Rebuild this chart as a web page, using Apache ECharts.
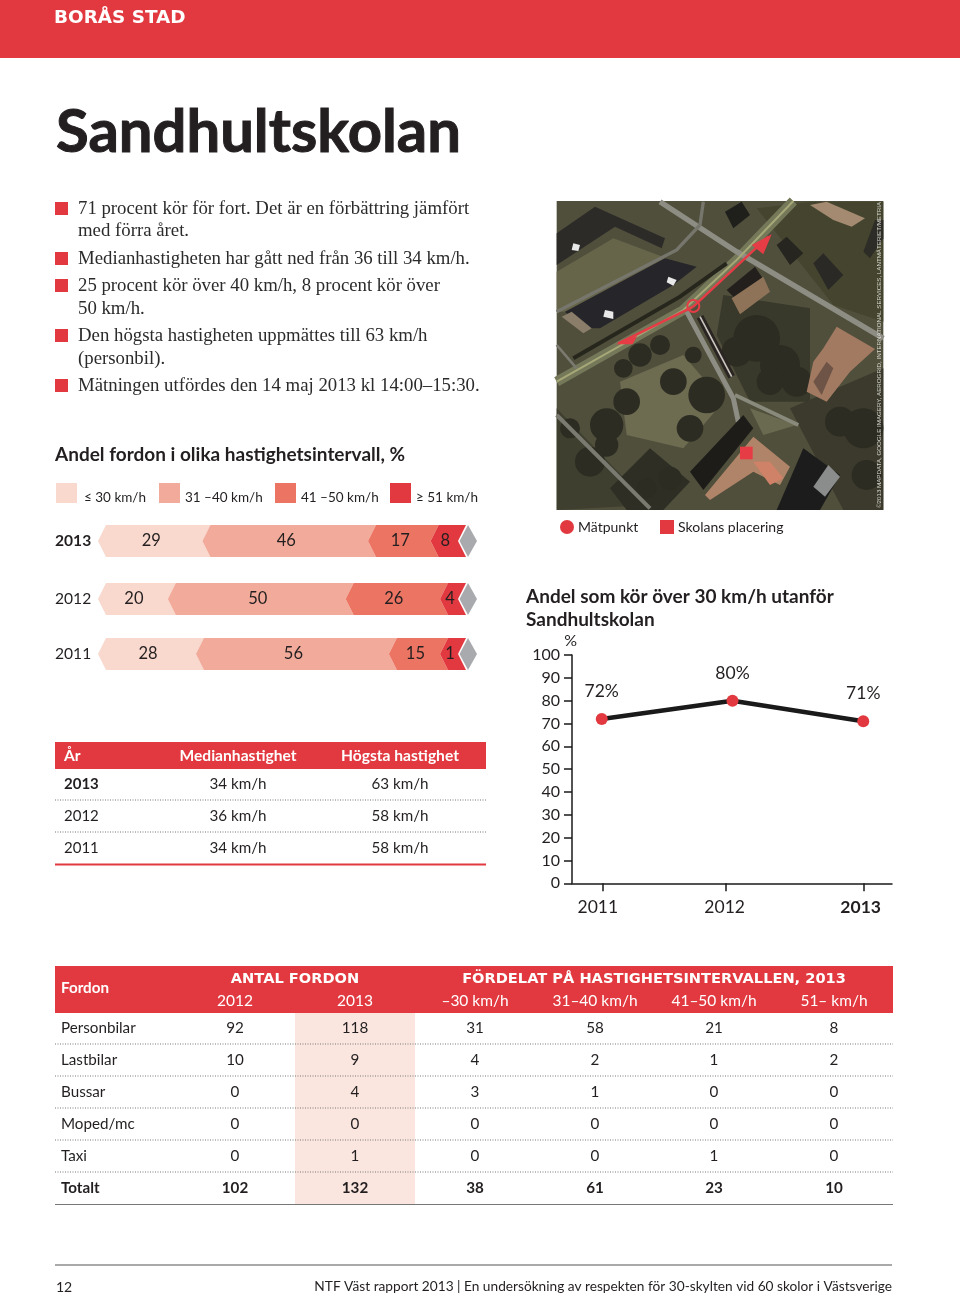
<!DOCTYPE html>
<html><head><meta charset="utf-8">
<style>html,body{margin:0;padding:0;background:#fff}#c{width:960px;height:1298px}</style>
<script src="https://cdn.jsdelivr.net/npm/echarts@6/dist/echarts.min.js"></script>
</head><body><div id="c"></div>
<script>
// ---- data ----
const speedYears = ['2013','2012','2011'];
const bandNames = ['≤ 30 km/h','31 –40 km/h','41 –50 km/h','≥ 51 km/h'];
const band30 = [29,20,28];
const band40 = [46,50,56];
const band50 = [17,26,15];
const band51 = [8,4,1];
// bar lengths as drawn in the picture (the printed bars are not exactly to label scale)
const drawn30 = [29,19.4,27.2];
const drawn40 = [46,49.4,53.6];
const drawn50 = [17.4,26.2,14.2];
const drawn51 = [7.6,5,5];
const lineYears = [2011,2012,2013];
const lineValues = [72,80,71];
const yTicks = [0,10,20,30,40,50,60,70,80,90,100];
const speedRows = [['2013','34 km/h','63 km/h'],['2012','36 km/h','58 km/h'],['2011','34 km/h','58 km/h']];
const vehicleRows = [
 ['Personbilar','92','118','31','58','21','8'],
 ['Lastbilar','10','9','4','2','1','2'],
 ['Bussar','0','4','3','1','0','0'],
 ['Moped/mc','0','0','0','0','0','0'],
 ['Taxi','0','1','0','0','1','0'],
 ['Totalt','102','132','38','61','23','10']];
const vehicleHead = ['2012','2013','–30 km/h','31–40 km/h','41–50 km/h','51– km/h'];
const bullets = [
 [['71 procent kör för fort. Det är en förbättring jämfört',209],['med förra året.',231]],
 [['Medianhastigheten har gått ned från 36 till 34 km/h.',259]],
 [['25 procent kör över 40 km/h, 8 procent kör över',286],['50 km/h.',309]],
 [['Den högsta hastigheten uppmättes till 63 km/h',336],['(personbil).',359]],
 [['Mätningen utfördes den 14 maj 2013 kl 14:00–15:30.',386]]];

// ---- style ----
const RED='#e1393f', SANS='Lato', SERIF='"Liberation Serif"', INK='#231f20', WIDE='"DejaVu Sans"';
const bandColors=['#f9d8cd','#f2ab9a','#ec7463','#e1393f'];
const g=[];
const T=(text,x,y,size,o={})=>g.push({type:'text',silent:true,z:o.z||5,style:{text,x,y,font:`${o.w||'normal'} ${size}px ${o.f||SANS}`,fill:o.c||INK,align:o.a||'left',verticalAlign:'middle',stroke:o.s||null,lineWidth:o.s?o.sw:0}});
const R=(x,y,w,h,c,z=1)=>g.push({type:'rect',silent:true,z,shape:{x,y,width:w,height:h},style:{fill:c}});
const L=(x1,y,x2,c,w=1,dash=null)=>g.push({type:'line',silent:true,z:3,shape:{x1,y1:y,x2,y2:y},style:{stroke:c,lineWidth:w,lineDash:dash}});

// header + title
R(0,0,960,58,RED);
T('BORÅS STAD',54,18.5,18.4,{c:'#fff',w:'bold',f:WIDE});
T('Sandhultskolan',56,133,59.8,{w:'bold',c:INK,s:INK,sw:1});
// bullets
bullets.forEach(b=>{R(55,b[0][1]-7,13,13,RED);b.forEach(l=>T(l[0],78,l[1]+0.5,18.8,{f:SERIF,c:'#2b2b2b'}));});
T('Andel fordon i olika hastighetsintervall, %',55,455,19,{w:'bold'});

// map (schematic of the aerial photo)
const mp=(pts,c,z)=>({type:'polygon',silent:true,shape:{points:pts},style:{fill:c},z2:z||1});
const ml=(pts,c,w,z)=>({type:'polyline',silent:true,shape:{points:pts},style:{stroke:c,lineWidth:w,fill:null},z2:z||2});
const tree=(x,y,r,c)=>({type:'circle',silent:true,shape:{cx:x,cy:y,r},style:{fill:c||'#2c2c22'},z2:1});
const mapKids=[
 {type:'rect',silent:true,shape:{x:20,y:18,width:980,height:927},style:{fill:'#504f3c'}},
 mp([[20,230],[190,130],[350,190],[60,350],[20,350]],'#66654a'),
 mp([[210,560],[400,480],[520,620],[400,760],[230,720]],'#6d6b50'),
 mp([[520,300],[780,340],[780,620],[600,620],[500,420]],'#38382b'),
 mp([[600,640],[740,690],[640,720]],'#6a6a50'),
 mp([[20,640],[300,930],[20,945]],'#3f3f30'),
 mp([[620,40],[780,20],[1000,20],[1000,380],[850,330]],'#45452f'),
 mp([[180,880],[300,760],[420,860],[340,945],[230,945]],'#2e2e24'),
 mp([[720,640],[1000,520],[1000,945],[880,945]],'#3b3a2d'),
 tree(170,690,50),tree(230,620,40),tree(120,800,45),tree(470,600,55),tree(420,700,40),tree(370,560,40),tree(620,430,70),tree(690,510,60),tree(330,450,30),tree(270,480,35),tree(940,700,60),
 tree(560,470,45),tree(740,560,45),tree(170,750,35),tree(60,700,30),tree(360,850,35),tree(290,880,30),tree(870,680,45),tree(950,840,45),tree(430,480,25),tree(220,520,28),tree(660,560,40),
 ml([[20,560],[400,345],[560,195],[730,18]],'#75795a',30),
 ml([[20,560],[400,345],[560,195],[730,18]],'#a6a878',6,3),
 ml([[70,490],[390,305],[530,205]],'#26261d',12,3),
 ml([[330,20],[560,170],[1000,430]],'#8e8d84',16),
 ml([[20,350],[380,165],[450,90],[460,20]],'#77766d',10),
 ml([[410,350],[550,610],[565,680]],'#8e8d84',15),
 ml([[555,600],[745,690]],'#8a8a7c',11),
 ml([[20,660],[300,940]],'#7a7a70',12),
 ml([[20,450],[80,520]],'#7a7a70',8),
 // parked cars
 ml([[450,365],[545,545]],'#2a2422',22,3),
 ml([[450,365],[545,545]],'#c9c5be',5,3),
 // houses upper left
 mp([[20,115],[135,35],[345,130],[335,160],[195,95],[20,210]],'#2c2b28',4),
 mp([[45,350],[345,190],[440,215],[370,270],[150,400],[100,400]],'#26252a',4),
 mp([[35,365],[65,350],[125,400],[100,415]],'#8a7d6a',4),
 mp([[70,145],[90,150],[85,168],[65,165]],'#e8e8e8',5),
 mp([[355,245],[380,255],[370,272],[350,262]],'#e8e8e8',5),
 mp([[165,345],[190,350],[190,372],[160,365]],'#e8e8e8',5),
 // top houses
 mp([[525,50],[575,20],[600,60],[550,100]],'#1f1f1c',4),
 mp([[680,150],[710,125],[760,175],[720,210]],'#26251f',4),
 mp([[780,30],[830,20],[945,70],[905,95],[850,75]],'#a38a70',4),
 mp([[790,205],[820,175],[880,240],[835,285]],'#2a2925',4),
 mp([[940,170],[975,75],[1000,75],[1000,130],[960,190]],'#2d2c26',4),
 // centre building
 mp([[530,285],[615,215],[645,260],[565,320]],'#231f1c',4),
 mp([[545,310],[640,245],[660,290],[570,358]],'#8e7358',4),
 // right building
 mp([[820,460],[860,395],[975,462],[900,530],[830,620],[770,590],[790,500]],'#a27a62',4),
 mp([[790,560],[830,500],[850,520],[815,600]],'#6e5446',5),
 // school
 mp([[420,830],[580,660],[610,700],[460,885]],'#1d1c18',4),
 mp([[465,900],[610,725],[720,815],[690,870],[610,830],[480,915]],'#b08468',4),
 mp([[610,800],[660,800],[700,850],[660,870]],'#cf8268',5),
 mp([[680,945],[760,760],[870,840],[810,945]],'#1c1c1c',4),
 mp([[790,875],[835,810],[870,845],[825,905]],'#8b8c8c',5),
 // measuring arrows
 ml([[430,335],[655,125]],'#e63c45',7,6),
 mp([[665,118],[605,150],[640,178]],'#e63c45',6),
 ml([[430,335],[205,445]],'#e63c45',7,6),
 mp([[197,448],[262,422],[248,448]],'#e63c45',6),
 {type:'circle',silent:true,shape:{cx:430,cy:333,r:18},style:{fill:'rgba(0,0,0,0)',stroke:'#e63c45',lineWidth:6},z2:6},
 {type:'rect',silent:true,shape:{x:570,y:755,width:38,height:38},style:{fill:'#e63c45'},z2:6},
];
g.push({type:'group',silent:true,x:550,y:195,scaleX:1/3,scaleY:1/3,z:2,children:mapKids});
g.push({type:'text',silent:true,z:3,x:879,y:508,rotation:Math.PI/2,style:{text:'©2013 MAPDATA, GOOGLE IMAGERY, AEROGRID, INTERNATIONAL SERVICES, LANTMÄTERIET/METRIA',font:'6.2px "Liberation Sans"',fill:'#d8d8d0',align:'left',verticalAlign:'middle'}});
g.push({type:'circle',silent:true,z:3,shape:{cx:567,cy:527,r:7},style:{fill:RED}});
T('Mätpunkt',578,527,14);
R(660,520,14,14,RED);
T('Skolans placering',678,527,14);

// line-chart title
T('Andel som kör över 30 km/h utanför',526,597,19,{w:'bold'});
T('Sandhultskolan',526,620,19,{w:'bold'});

// median table
R(55,742,431,27,RED);
T('År',64,755.5,15.6,{c:'#fff',w:'bold'});
T('Medianhastighet',238,755.5,15.6,{c:'#fff',w:'bold',a:'center'});
T('Högsta hastighet',400,755.5,15.6,{c:'#fff',w:'bold',a:'center'});
speedRows.forEach((r,i)=>{const y=784.5+i*32;
 T(r[0],64,y,15,{w:i==0?'bold':'normal'});
 T(r[1],238,y,15.2,{a:'center'});T(r[2],400,y,15.2,{a:'center'});
 if(i<2)L(55,y+15.5,486,'#777',1,[1,1.5]);});
L(55,864.5,486,RED,2);

// vehicle table
R(55,966,838,47,RED);
R(295,1013,120,191,'#fae6df');
T('Fordon',61,988.5,15.2,{c:'#fff',w:'bold'});
T('ANTAL FORDON',295,979.5,14.6,{c:'#fff',w:'bold',a:'center',f:WIDE});
T('FÖRDELAT PÅ HASTIGHETSINTERVALLEN, 2013',654,979.5,14.6,{c:'#fff',w:'bold',a:'center',f:WIDE});
const colX=[235,355,475,595,714,834];
vehicleHead.forEach((h,i)=>T(h,colX[i],1000.5,15.5,{c:'#fff',a:'center'}));
vehicleRows.forEach((r,i)=>{const y=1028.5+i*32,bold=i==5?'bold':'normal';
 T(r[0],61,y,15.2,{w:bold});
 r.slice(1).forEach((v,j)=>T(v,colX[j],y,15.2,{a:'center',w:bold}));
 if(i<5)L(55,y+15.5,893,'#777',1,[1,1.5]);});
L(55,1204.5,893,'#777',1.2);

// footer
L(55,1265,892,'#555',1.2);
T('12',56,1287,14);
T('NTF Väst rapport 2013 | En undersökning av respekten för 30-skylten vid 60 skolor i Västsverige',892,1287,13.7,{a:'right'});

// ---- stacked chevron bars, one grid per year ----
const rowTops=[525,583,638];
const grids=[],xAxes=[],yAxes=[],series=[];
const barValues=[band30,band40,band50,band51], barDrawn=[drawn30,drawn40,drawn50,drawn51];
const NOTCH=8;
function chevron(params,api){
 const x0=api.coord([api.value(0),0])[0], x1=api.coord([api.value(1),0])[0];
 const cy=api.coord([0,0])[1], h=api.size([0,1])[1]/2;
 const pts=[[x0+NOTCH,cy-h],[x1+NOTCH,cy-h],[x1,cy],[x1+NOTCH,cy+h],[x0+NOTCH,cy+h],[x0,cy]];
 return {type:'group',children:[
  {type:'polygon',shape:{points:pts},style:{fill:api.visual('color')}},
  {type:'text',style:{text:String(api.value(2)),x:(x0+x1)/2+1,y:cy,align:'center',verticalAlign:'middle',font:'normal 16.5px Lato',fill:INK}}
 ]};
}
function endDiamond(params,api){
 const x=api.coord([api.value(0),0])[0], cy=api.coord([0,0])[1], h=api.size([0,1])[1]/2;
 return {type:'polygon',shape:{points:[[x+1.5,cy],[x+10,cy-h],[x+19,cy],[x+10,cy+h]]},style:{fill:api.visual('color')}};
}
speedYears.forEach((yr,i)=>{
 grids.push({left:98,width:360,top:rowTops[i],height:32});
 xAxes.push({gridIndex:i,type:'value',min:0,max:100,show:false});
 yAxes.push({gridIndex:i,type:'category',data:[yr],axisLine:{show:false},axisTick:{show:false},
  axisLabel:{align:'left',margin:43,fontFamily:'Lato',fontSize:15.6,color:INK,fontWeight:i==0?'bold':'normal'}});
 let start=0;
 bandNames.forEach((name,b)=>{
  const end=start+barDrawn[b][i];
  series.push({type:'custom',name,xAxisIndex:i,yAxisIndex:i,coordinateSystem:'cartesian2d',
   itemStyle:{color:bandColors[b]},encode:{x:[0,1],y:3},renderItem:chevron,silent:true,
   data:[[start,end,barValues[b][i],yr]],z:5});
  start=end;
 });
 series.push({type:'custom',xAxisIndex:i,yAxisIndex:i,coordinateSystem:'cartesian2d',silent:true,
  itemStyle:{color:'#a9aaae'},encode:{x:0,y:1},renderItem:endDiamond,data:[[100,yr]],z:5});
});

// ---- line chart ----
const lg=grids.length;
grids.push({left:572,width:320,top:655,height:228.3});
xAxes.push({gridIndex:lg,type:'value',min:2010.7726,max:2013.2198,splitLine:{show:false},
 axisLine:{lineStyle:{color:'#1a1a1a',width:1.5}},
 axisTick:{show:true,length:8,customValues:[2011.01,2011.95,2013],lineStyle:{color:'#1a1a1a',width:1.5}},
 axisLabel:{margin:15.5,fontSize:17.5,fontFamily:'Lato',color:INK,customValues:[2010.97,2011.94,2012.98],
  formatter:v=>{const y=Math.round(v);return y==lineYears[2]?`{b|${y}}`:String(y);},rich:{b:{fontWeight:'bold',fontSize:17.5,fontFamily:'Lato',color:INK}}}});
yAxes.push({gridIndex:lg,type:'value',min:0,max:100,interval:10,splitLine:{show:false},
 name:'%',nameLocation:'end',nameGap:6,nameTextStyle:{fontFamily:'Lato',fontSize:16,color:INK,align:'right',padding:[0,-5,0,0]},
 axisLine:{show:true,lineStyle:{color:'#1a1a1a',width:1.5}},
 axisTick:{show:true,length:8,lineStyle:{color:'#1a1a1a',width:1.5}},
 axisLabel:{margin:12,fontSize:16,fontFamily:'Lato',color:INK,customValues:yTicks}});
series.push({type:'line',name:'Andel över 30 km/h',xAxisIndex:lg,yAxisIndex:lg,silent:true,
 data:lineYears.map((y,i)=>[y,lineValues[i]]),symbol:'circle',symbolSize:12,z:6,
 lineStyle:{color:'#1a1a1a',width:4.5},itemStyle:{color:RED},
 label:{show:true,position:'top',distance:12.5,formatter:p=>p.value[1]+'%',fontSize:17.5,fontFamily:'Lato',color:INK}});

// one legend component per band so each swatch sits where the reference has it
const legX=[56,159,275,390];
const legends=bandNames.map((n,i)=>({left:legX[i],top:483,padding:0,data:[n],icon:'rect',itemWidth:21,itemHeight:20,selectedMode:false,
 formatter:'{t|{name}}',
 textStyle:{rich:{t:{fontFamily:'Lato',fontSize:13.5,color:INK,padding:[10,0,0,i==0?2:0]}}}}));

const chart=echarts.init(document.getElementById('c'),null,{renderer:'canvas',width:960,height:1298});
chart.setOption({animation:false,backgroundColor:'#fff',tooltip:{show:false},legend:legends,grid:grids,xAxis:xAxes,yAxis:yAxes,series,graphic:{elements:g}});
</script></body></html>
